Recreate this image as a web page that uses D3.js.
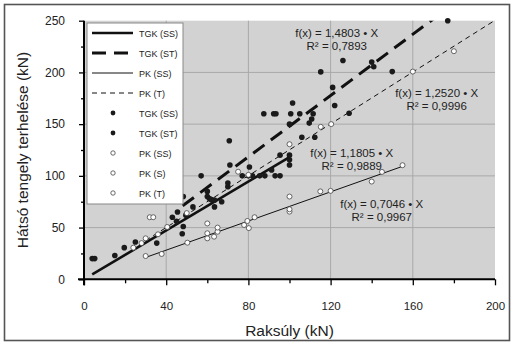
<!DOCTYPE html>
<html lang="hu">
<head>
    <meta charset="UTF-8">
    <title>Hátsó tengely terhelése vs Raksúly</title>
    <script src="https://d3js.org/d3.v7.min.js"></script>
    <style>
        body {
            margin: 0;
            background: #fff;
            font-family: Arial, "Liberation Sans", sans-serif;
        }
        svg {
            display: block;
        }
    </style>
</head>
<body>
    <svg id="chart" width="514" height="344"></svg>
    <script>
        // data (kN)
        const xTicks = [0, 40, 80, 120, 160, 200];
        const yTicks = [0, 50, 100, 150, 200, 250];

        const tgkSS = [[4, 20], [5.2, 20], [15, 23], [19.6, 30.6], [25, 36], [35.4, 35], [43, 60], [45, 56],
            [45.5, 65], [48.3, 51], [47.8, 44], [49.6, 62], [60, 80], [61, 78], [62, 77], [63.5, 70],
            [63.5, 76.5], [67, 75], [70, 89.5], [70, 93], [77, 100], [80, 100], [82, 100], [85.5, 100],
            [88, 100], [93, 100], [95.4, 100], [91.3, 105.7], [95.4, 120], [100, 120], [100, 115.5], [100, 110.5]];
        const tgkST = [[48.3, 80], [53, 70], [57, 100], [60, 85], [70.7, 134], [71, 110.5], [80.5, 108.5],
            [87.5, 160], [92.3, 160], [93.4, 160], [100, 150], [100.6, 160], [105, 160], [101.5, 170.5],
            [106, 137.3], [112.3, 137.3], [109.6, 151], [110.8, 155], [111.5, 160], [115.2, 200.5],
            [121, 185.5], [122, 168], [126, 211.5], [129, 160.5], [140, 210], [141, 205.5], [150, 200.8], [177, 250]];
        const pkSS = [[30, 22.5], [37.8, 24.5], [50.3, 35.4], [60, 39.6], [60, 44.5], [63.3, 41.2], [65, 46],
            [65, 50], [60, 54], [77.9, 52.5], [79.5, 56.4], [80.2, 49.5], [83, 60], [100, 65.4], [100, 67.7],
            [100, 80], [115, 85], [120, 85.5], [140, 94.5], [145, 103.8], [155, 110.3]];
        const pkS = [[32, 60], [33.7, 60], [24, 30.6], [28, 35], [36, 43.5], [50, 64]];
        const pkT = [[30, 39.6], [40.5, 50.6], [75, 104], [80, 101], [100, 130.6], [115.2, 147.4],
            [120.3, 150], [160, 200.8], [180, 220.5]];

        // trend lines f(x) = a * X
        const trendNames = ["TGK (SS)", "TGK (ST)", "PK (SS)", "PK (T)"];
        const trendSlopes = [1.1805, 1.4803, 0.7046, 1.2520];
        const trendR2 = ["0,9889", "0,7893", "0,9967", "0,9996"];
        const trendRange = [[4, 100], [48, 177], [30, 155], [30, 200]];

        const pointNames = ["TGK (SS)", "TGK (ST)", "PK (SS)", "PK (S)", "PK (T)"];
        const pointSets = [tgkSS, tgkST, pkSS, pkS, pkT];

        const svg = d3.select("#chart");
        const margin = { top: 20.7, left: 84, right: 19, bottom: 64.7 };
        const W = 514, H = 344;

        const x = d3.scaleLinear().domain([0, 200]).range([margin.left, W - margin.right]);
        const y = d3.scaleLinear().domain([0, 250]).range([H - margin.bottom, margin.top]);

        // outer frame
        svg.append("rect")
            .attr("x", 4.5).attr("y", 4.5)
            .attr("width", 505).attr("height", 336)
            .attr("fill", "none").attr("stroke", "#555").attr("stroke-width", 1.6);

        // plot area
        svg.append("rect")
            .attr("x", x(0)).attr("y", y(250))
            .attr("width", x(200) - x(0)).attr("height", y(0) - y(250))
            .attr("fill", "#d2d2d2");

        svg.append("defs").append("clipPath").attr("id", "clip")
            .append("rect")
            .attr("x", x(0)).attr("y", y(250))
            .attr("width", x(200) - x(0)).attr("height", y(0) - y(250));

        // grid
        svg.append("g")
            .selectAll("line")
            .data(xTicks.slice(1, -1))
            .join("line")
            .attr("x1", d => x(d)).attr("x2", d => x(d))
            .attr("y1", y(0)).attr("y2", y(250))
            .attr("stroke", "#a9a9a9").attr("stroke-width", 1);
        svg.append("g")
            .selectAll("line")
            .data(yTicks.slice(1, -1))
            .join("line")
            .attr("x1", x(0)).attr("x2", x(200))
            .attr("y1", d => y(d)).attr("y2", d => y(d))
            .attr("stroke", "#a9a9a9").attr("stroke-width", 1);

        // trend lines
        const lineStyles = [
            { w: 2.6, dash: null },
            { w: 3, dash: "14,8" },
            { w: 1, dash: null },
            { w: 1, dash: "5,4" }
        ];
        const trends = svg.append("g").attr("clip-path", "url(#clip)");
        trendSlopes.forEach((a, i) => {
            const [x0, x1] = trendRange[i];
            trends.append("line")
                .attr("x1", x(x0)).attr("y1", y(a * x0))
                .attr("x2", x(x1)).attr("y2", y(a * x1))
                .attr("stroke", "#111")
                .attr("stroke-width", lineStyles[i].w)
                .attr("stroke-dasharray", lineStyles[i].dash);
        });

        // points
        const filled = [true, true, false, false, false];
        pointSets.forEach((pts, i) => {
            svg.append("g")
                .selectAll("circle")
                .data(pts)
                .join("circle")
                .attr("cx", d => x(d[0]))
                .attr("cy", d => y(d[1]))
                .attr("r", filled[i] ? 2.8 : 2.5)
                .attr("fill", filled[i] ? "#1a1a1a" : "#fff")
                .attr("stroke", filled[i] ? "none" : "#444")
                .attr("stroke-width", 0.8);
        });

        // axes
        const xAxis = svg.append("g")
            .attr("transform", `translate(0,${y(0)})`)
            .call(d3.axisBottom(x).tickValues(xTicks).tickSize(6).tickPadding(17));
        xAxis.selectAll(".tick line").attr("stroke-width", 1.3);
        svg.append("g")
            .attr("transform", `translate(0,${y(0)})`)
            .call(d3.axisBottom(x).tickValues(d3.range(20, 200, 40)).tickSize(4).tickFormat(""))
            .call(g => g.select(".domain").remove())
            .selectAll(".tick line").attr("stroke-width", 1.3);
        xAxis.select(".domain").attr("stroke-width", 2).attr("d", `M${x(0) - 6},0H${x(200)}`);
        xAxis.selectAll("text").attr("font-size", 11.5).attr("font-family", "Arial, 'Liberation Sans', sans-serif").attr("fill", "#222");

        const yAxis = svg.append("g")
            .attr("transform", `translate(${x(0)},0)`)
            .call(d3.axisLeft(y).tickValues(yTicks).tickSize(5).tickPadding(14));
        yAxis.selectAll(".tick line").attr("stroke-width", 1.3);
        svg.append("g")
            .attr("transform", `translate(${x(0)},0)`)
            .call(d3.axisLeft(y).tickValues(d3.range(25, 250, 50)).tickSize(3).tickFormat(""))
            .call(g => g.select(".domain").remove())
            .selectAll(".tick line").attr("stroke-width", 1.3);
        yAxis.select(".domain").attr("stroke-width", 2).attr("d", `M0,${y(0) + 6}V${y(250)}`);
        yAxis.selectAll("text").attr("font-size", 12).attr("font-family", "Arial, 'Liberation Sans', sans-serif").attr("fill", "#222");

        // axis titles
        svg.append("text")
            .attr("x", (x(0) + x(200)) / 2).attr("y", 336)
            .attr("text-anchor", "middle")
            .attr("font-size", 15.5).attr("fill", "#222")
            .text("Raksúly (kN)");
        svg.append("text")
            .attr("transform", `translate(28,${(y(0) + y(250)) / 2}) rotate(-90)`)
            .attr("text-anchor", "middle")
            .attr("font-size", 15.5).attr("fill", "#222")
            .text("Hátsó tengely terhelése (kN)");

        // equation labels, anchored in data units
        const eqPos = [[130.3, 121.9], [123, 237.9], [144.9, 71.9], [171.6, 179.9]];
        const fmt = a => a.toFixed(4).replace(".", ",");
        trendSlopes.forEach((a, i) => {
            const px = x(eqPos[i][0]), py = y(eqPos[i][1]);
            svg.append("text")
                .attr("x", px).attr("y", py + 3.5)
                .attr("text-anchor", "middle")
                .attr("font-size", 11.5).attr("fill", "#222")
                .text(`f(x) = ${fmt(a)} • X`);
            svg.append("text")
                .attr("x", px).attr("y", py + 16.5)
                .attr("text-anchor", "middle")
                .attr("font-size", 11.5).attr("fill", "#222")
                .text(`R² = ${trendR2[i]}`);
        });

        // legend
        const lg = svg.append("g").attr("transform", "translate(87,23)");
        lg.append("rect")
            .attr("width", 96).attr("height", 181)
            .attr("fill", "#fff").attr("stroke", "#888").attr("stroke-width", 1);
        trendNames.forEach((n, i) => {
            const yy = 10 + i * 20;
            lg.append("line")
                .attr("x1", 5).attr("x2", 46).attr("y1", yy).attr("y2", yy)
                .attr("stroke", "#111")
                .attr("stroke-width", lineStyles[i].w)
                .attr("stroke-dasharray", lineStyles[i].dash);
            lg.append("text")
                .attr("x", 52).attr("y", yy + 3.5)
                .attr("font-size", 9).attr("fill", "#222")
                .text(n);
        });
        pointNames.forEach((n, i) => {
            const yy = 10 + (i + 4) * 20;
            lg.append("circle")
                .attr("cx", 26).attr("cy", yy)
                .attr("r", filled[i] ? 2.4 : 2.2)
                .attr("fill", filled[i] ? "#1a1a1a" : "#fff")
                .attr("stroke", filled[i] ? "none" : "#444")
                .attr("stroke-width", 0.8);
            lg.append("text")
                .attr("x", 52).attr("y", yy + 3.5)
                .attr("font-size", 9).attr("fill", "#222")
                .text(n);
        });
    </script>
</body>
</html>
